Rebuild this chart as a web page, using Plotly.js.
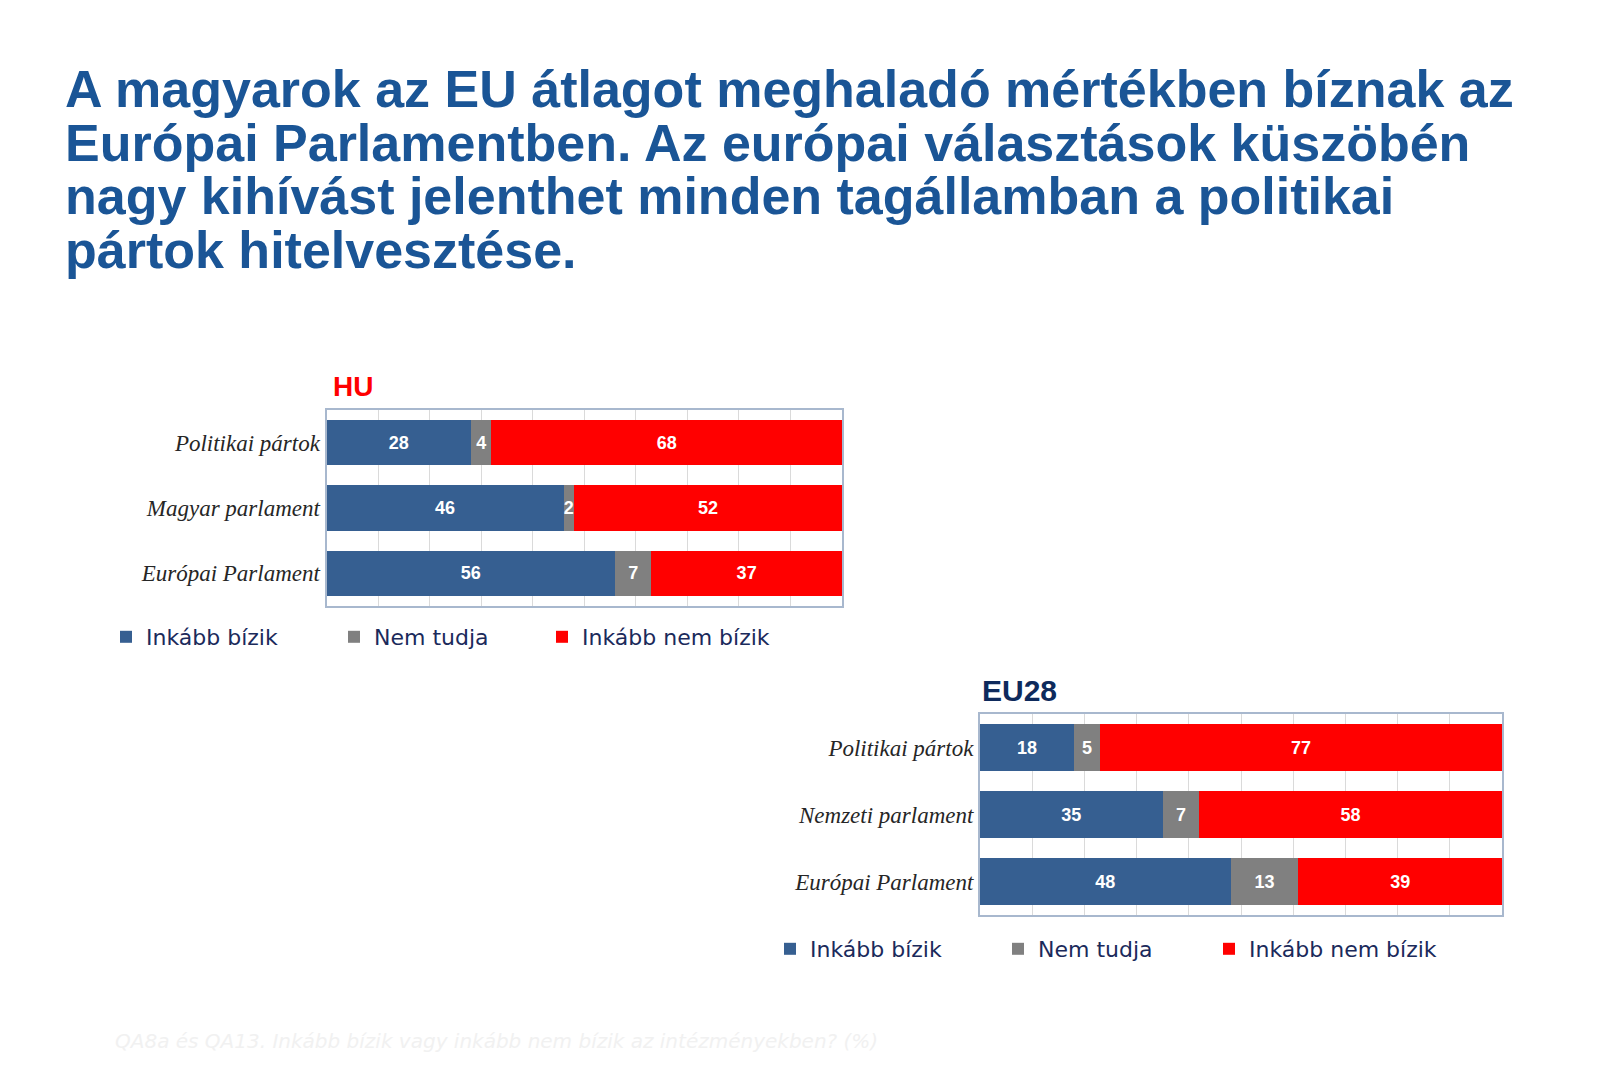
<!DOCTYPE html>
<html><head><meta charset="utf-8">
<script src="https://cdn.plot.ly/plotly-3.0.1.min.js"></script>
<style>html,body{margin:0;padding:0;background:#fff}#chart{width:1600px;height:1066px}</style>
</head><body><div id="chart"></div>
<script>
// ---- data ----
const titleLines = [
  'A magyarok az EU átlagot meghaladó mértékben bíznak az',
  'Európai Parlamentben. Az európai választások küszöbén',
  'nagy kihívást jelenthet minden tagállamban a politikai',
  'pártok hitelvesztése.'
];
const panelTitles = ['HU', 'EU28'];
const seriesNames = ['Inkább bízik', 'Nem tudja', 'Inkább nem bízik'];
const huCategories = ['Politikai pártok', 'Magyar parlament', 'Európai Parlament'];
const huTrust = [28, 46, 56];
const huDontKnow = [4, 2, 7];
const huDistrust = [68, 52, 37];
const euCategories = ['Politikai pártok', 'Nemzeti parlament', 'Európai Parlament'];
const euTrust = [18, 35, 48];
const euDontKnow = [5, 7, 13];
const euDistrust = [77, 58, 39];
const footnote = 'QA8a és QA13. Inkább bízik vagy inkább nem bízik az intézményekben? (%)';

// ---- layout helpers ----
const W = 1600, H = 1066;
const fx = p => p / W;
const fy = p => 1 - p / H;
const colors = ['#365F91', '#808080', '#FF0000'];
const legendWidths = [[183, 163, 200], [183, 166, 200]];

function makeTraces(cats, series, ax, ay, leg, li) {
  return series.map((vals, i) => ({
    type: 'bar', orientation: 'h',
    name: seriesNames[i],
    x: vals, y: cats,
    xaxis: ax, yaxis: ay, legend: leg,
    legendwidth: legendWidths[li][i],
    marker: {color: colors[i], line: {width: 0}},
    texttemplate: '%{x}', textposition: 'inside', insidetextanchor: 'middle',
    constraintext: 'none', textangle: 0, cliponaxis: false,
    textfont: {family: 'Liberation Sans, Arial, sans-serif', size: 18, color: '#FFFFFF', weight: 'bold'},
    hoverinfo: 'skip'
  }));
}

const data = [
  ...makeTraces(huCategories, [huTrust, huDontKnow, huDistrust], 'x', 'y', 'legend', 0),
  ...makeTraces(euCategories, [euTrust, euDontKnow, euDistrust], 'x2', 'y2', 'legend2', 1)
];

const frameColor = '#A8B8CE';
function xAxis(d, anchor) {
  return {domain: d, anchor: anchor, range: [0, 100], dtick: 10, showgrid: true, gridcolor: '#DADADA', gridwidth: 1,
    showticklabels: false, ticks: '', zeroline: false, showline: true, mirror: true,
    linecolor: frameColor, linewidth: 2, fixedrange: true};
}
function yAxis(d, anchor, cats) {
  return {domain: d, anchor: anchor, type: 'category', categoryorder: 'array', categoryarray: cats, autorange: 'reversed',
    showline: true, mirror: true, linecolor: frameColor, linewidth: 2, ticks: '', showgrid: false,
    ticklabelstandoff: 0, fixedrange: true,
    tickfont: {family: 'Liberation Serif, Times New Roman, serif', style: 'italic', size: 23, color: '#262626'}};
}

const legendFont = {family: 'DejaVu Sans, Verdana, sans-serif', size: 22, color: '#1B2A5B'};
const annotations = [];
titleLines.forEach((t, i) => annotations.push({
  text: t, xref: 'paper', yref: 'paper', x: fx(63), y: fy(89 + i * 53.5),
  xanchor: 'left', yanchor: 'middle', showarrow: false,
  font: {family: 'Liberation Sans, Arial, sans-serif', size: 52, weight: 'bold', color: '#1A5596'}
}));
annotations.push({text: panelTitles[0], xref: 'paper', yref: 'paper', x: fx(331), y: fy(386),
  xanchor: 'left', yanchor: 'middle', showarrow: false,
  font: {family: 'Liberation Sans, Arial, sans-serif', size: 28, weight: 'bold', color: '#FF0000'}});
annotations.push({text: panelTitles[1], xref: 'paper', yref: 'paper', x: fx(980), y: fy(690),
  xanchor: 'left', yanchor: 'middle', showarrow: false,
  font: {family: 'Liberation Sans, Arial, sans-serif', size: 30, weight: 'bold', color: '#0E2A5C'}});
annotations.push({text: footnote, xref: 'paper', yref: 'paper', x: fx(113), y: fy(1041),
  xanchor: 'left', yanchor: 'middle', showarrow: false,
  font: {family: 'DejaVu Sans, Verdana, sans-serif', size: 20, style: 'italic', color: '#F1F1F1'}});

const layout = {
  width: W, height: H,
  margin: {l: 0, r: 0, t: 0, b: 0},
  paper_bgcolor: '#FFFFFF', plot_bgcolor: '#FFFFFF',
  barmode: 'stack', bargap: 0.31,
  showlegend: true,
  xaxis: xAxis([fx(326.5), fx(842)], 'y'),
  yaxis: yAxis([fy(606), fy(410)], 'x', huCategories),
  xaxis2: xAxis([fx(980), fx(1502)], 'y2'),
  yaxis2: yAxis([fy(915), fy(714)], 'x2', euCategories),
  legend: {orientation: 'h', x: fx(106), xanchor: 'left', y: fy(637), yanchor: 'middle',
    font: legendFont, bgcolor: 'rgba(0,0,0,0)', traceorder: 'normal', itemclick: false, itemdoubleclick: false},
  legend2: {orientation: 'h', x: fx(770), xanchor: 'left', y: fy(949), yanchor: 'middle',
    font: legendFont, bgcolor: 'rgba(0,0,0,0)', traceorder: 'normal', itemclick: false, itemdoubleclick: false},
  annotations: annotations
};

Plotly.newPlot('chart', data, layout, {displayModeBar: false, staticPlot: true});
</script>
</body></html>
